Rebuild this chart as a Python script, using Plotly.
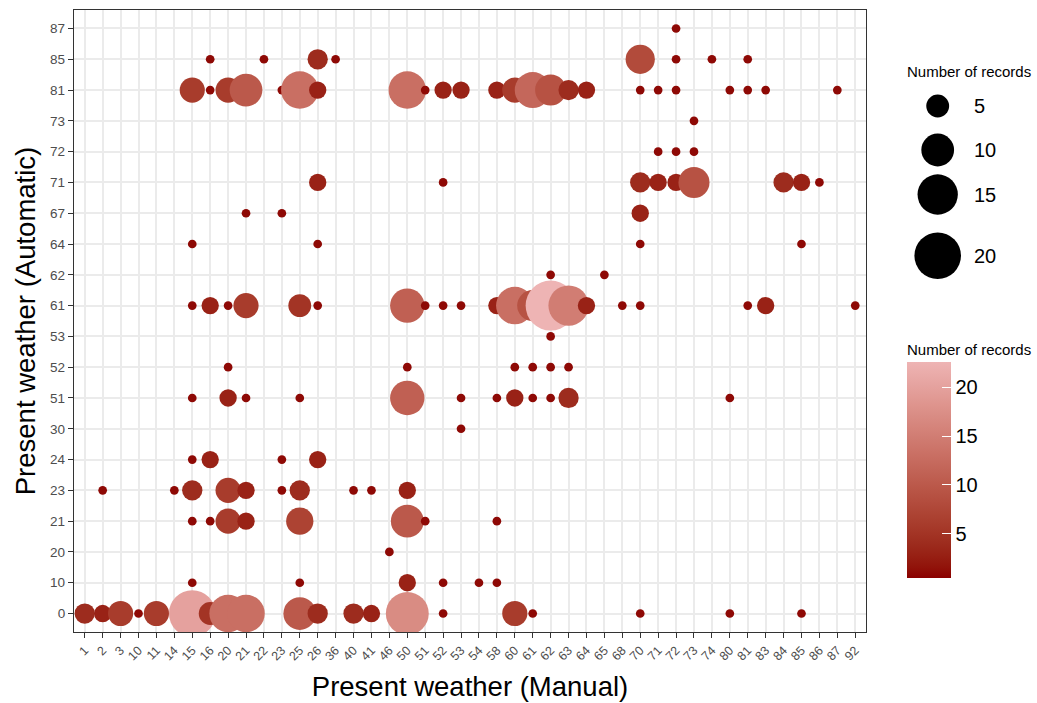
import numpy as np
import plotly.graph_objects as go

# ---------------- data ----------------
x_cats = ["1", "2", "3", "10", "11", "14", "15", "16", "20", "21", "22", "23", "25", "26",
          "36", "40", "41", "46", "50", "51", "52", "53", "54", "58", "60", "61", "62", "63",
          "64", "65", "68", "70", "71", "72", "73", "74", "80", "81", "83", "84", "85", "86",
          "87", "92"]
y_cats = ["0", "10", "20", "21", "23", "24", "30", "51", "52", "53", "61", "62", "64", "67",
          "71", "72", "73", "81", "85", "87"]

manual = ["1", "2", "2", "3", "10", "11", "14",
          "15", "15", "15", "15", "15", "15", "15", "15", "15",
          "16", "16", "16", "16", "16", "16",
          "20", "20", "20", "20", "20", "20", "20",
          "21", "21", "21", "21", "21", "21", "21",
          "22",
          "23", "23", "23", "23",
          "25", "25", "25", "25", "25", "25", "25",
          "26", "26", "26", "26", "26", "26", "26",
          "36", "40", "40", "41", "41", "46",
          "50", "50", "50", "50", "50", "50", "50", "50",
          "51", "51", "51",
          "52", "52", "52", "52", "52",
          "53", "53", "53", "53",
          "54",
          "58", "58", "58", "58", "58",
          "60", "60", "60", "60", "60",
          "61", "61", "61", "61", "61",
          "62", "62", "62", "62", "62", "62",
          "63", "63", "63", "63",
          "64", "64", "65", "68",
          "70", "70", "70", "70", "70", "70", "70",
          "71", "71", "71",
          "72", "72", "72", "72", "72",
          "73", "73", "73",
          "74", "80", "80", "80", "81", "81", "81", "83", "83", "84",
          "85", "85", "85", "86", "87", "92"]
automatic = ["0", "0", "23", "0", "0", "0", "23",
             "0", "10", "21", "23", "24", "51", "61", "64", "81",
             "0", "21", "24", "61", "81", "85",
             "0", "21", "23", "51", "52", "61", "81",
             "0", "21", "23", "51", "61", "67", "81",
             "85",
             "23", "24", "67", "81",
             "0", "10", "21", "23", "51", "61", "81",
             "0", "24", "61", "64", "71", "81", "85",
             "85", "0", "23", "0", "23", "20",
             "0", "10", "21", "23", "51", "52", "61", "81",
             "21", "61", "81",
             "0", "10", "61", "71", "81",
             "30", "51", "61", "81",
             "10",
             "10", "21", "51", "61", "81",
             "0", "51", "52", "61", "81",
             "0", "51", "52", "61", "81",
             "51", "52", "53", "61", "62", "81",
             "51", "52", "61", "81",
             "61", "81", "62", "61",
             "0", "61", "64", "67", "71", "81", "85",
             "71", "72", "81",
             "71", "72", "81", "85", "87",
             "71", "72", "73",
             "85", "0", "51", "81", "61", "81", "85", "61", "81", "71",
             "0", "64", "71", "71", "81", "61"]
records = [4, 3, 1, 6, 1, 6, 1,
           20, 1, 1, 4, 1, 1, 1, 1, 6,
           5, 1, 3, 3, 1, 1,
           13, 6, 6, 3, 1, 1, 6,
           13, 3, 3, 1, 6, 1, 10,
           1,
           1, 1, 1, 1,
           10, 1, 7, 4, 1, 5, 13,
           4, 3, 1, 1, 3, 3, 4,
           1, 4, 1, 3, 1, 1,
           17, 3, 10, 3, 11, 1, 11, 13,
           1, 1, 1,
           1, 1, 1, 1, 3,
           1, 1, 1, 3,
           1,
           1, 1, 1, 3, 3,
           6, 3, 1, 13, 6,
           1, 1, 1, 9, 12,
           1, 1, 1, 23, 1, 9,
           4, 1, 15, 4,
           3, 3, 1, 1,
           1, 1, 1, 3, 4, 1, 8,
           3, 1, 1,
           3, 1, 1, 1, 1,
           9, 1, 1,
           1, 1, 1, 1, 1, 1, 1, 3, 1, 4,
           1, 1, 3, 1, 1, 1]

size_breaks = [5, 10, 15, 20]
colour_ticks = [5, 10, 15, 20]

# ---------------- styling helpers ----------------
W, H = 1037, 703
PL, PR, PT, PB = 74, 866, 10, 632          # panel box in px
FONT = "Liberation Sans"
LOW, HIGH = (139, 0, 0), (238, 180, 180)    # darkred -> rosybrown2
CMIN, CMAX = 0.45, 22.6
BAR_TOP, BAR_BOT, BAR_L, BAR_W = 362, 578, 907, 44

vmin, vmax = min(records), max(records)


def diam(v):
    v = np.asarray(v, dtype=float)
    s = np.sqrt(1 + 35 * (v - vmin) / (vmax - vmin))   # area scaling, range 1..6
    return 8.26 * s + 0.44


# Lab interpolation (as ggplot's gradient)
def _lin(c):
    c = np.asarray(c, float) / 255
    return np.where(c <= 0.04045, c / 12.92, ((c + 0.055) / 1.055) ** 2.4)


def _delin(c):
    c = np.clip(c, 0, 1)
    return np.where(c <= 0.0031308, 12.92 * c, 1.055 * c ** (1 / 2.4) - 0.055)


_M = np.array([[0.4124564, 0.3575761, 0.1804375],
               [0.2126729, 0.7151522, 0.0721750],
               [0.0193339, 0.1191920, 0.9503041]])
_WP = np.array([0.95047, 1.0, 1.08883])


def _f(t):
    d = 6 / 29
    return np.where(t > d ** 3, np.cbrt(t), t / (3 * d * d) + 4 / 29)


def _finv(t):
    d = 6 / 29
    return np.where(t > d, t ** 3, 3 * d * d * (t - 4 / 29))


def to_lab(rgb):
    xyz = _M @ _lin(rgb) / _WP
    fx, fy, fz = _f(xyz)
    return np.array([116 * fy - 16, 500 * (fx - fy), 200 * (fy - fz)])


def from_lab(lab):
    L, a, b = lab
    fy = (L + 16) / 116
    xyz = np.array([_finv(fy + a / 500), _finv(fy), _finv(fy - b / 200)]) * _WP
    rgb = _delin(np.linalg.inv(_M) @ xyz) * 255
    return "rgb(%d,%d,%d)" % tuple(np.round(rgb).astype(int))


lab_lo, lab_hi = to_lab(LOW), to_lab(HIGH)
colorscale = [[t, from_lab(lab_lo + (lab_hi - lab_lo) * t)] for t in np.linspace(0, 1, 21)]

# ---------------- figure ----------------
fig = go.Figure()

fig.add_trace(go.Scatter(
    x=manual, y=automatic, mode="markers",
    marker=dict(size=diam(records).tolist(), sizemode="diameter",
                color=records, colorscale=colorscale, cmin=CMIN, cmax=CMAX,
                opacity=1, line=dict(width=0),
                colorbar=dict(
                    x=BAR_L / W, xanchor="left", xpad=0,
                    y=1 - (BAR_TOP + BAR_BOT) / 2 / H, yanchor="middle", ypad=0,
                    len=BAR_BOT - BAR_TOP, lenmode="pixels", thickness=BAR_W,
                    outlinewidth=0,
                    tickvals=colour_ticks, ticks="inside", ticklen=9,
                    tickcolor="white", tickwidth=1,
                    tickfont=dict(family=FONT, size=20, color="black"))),
    showlegend=False, hoverinfo="x+y+text", text=[str(r) for r in records],
))
fig.add_annotation(x=905 / W, xref="paper", xanchor="left", y=1 - 349 / H, yref="paper",
                   yanchor="middle", text="Number of records", showarrow=False,
                   font=dict(family=FONT, size=15, color="black"))

# size legend (hidden axes in the right margin)
LEG_X0, LEG_X1, LEG_Y0, LEG_Y1 = 900, 1035, 80, 290
key_centres = [106, 150, 194.5, 255.7]
key_x = 937.7
fig.add_trace(go.Scatter(
    x=[key_x] * len(size_breaks), y=key_centres, mode="markers",
    marker=dict(size=diam(size_breaks).tolist(), sizemode="diameter", color="#000000",
                opacity=1, line=dict(width=0, color="#000000")),
    opacity=1,
    xaxis="x2", yaxis="y2", showlegend=False, hoverinfo="skip"))
for b, yc in zip(size_breaks, key_centres):
    fig.add_annotation(x=972 / W, xref="paper", xanchor="left", y=yc, yref="y2",
                       yanchor="middle", text=str(b), showarrow=False,
                       font=dict(family=FONT, size=20, color="black"))
fig.add_annotation(x=905 / W, xref="paper", xanchor="left", y=1 - 71 / H, yref="paper",
                   yanchor="middle", text="Number of records", showarrow=False,
                   font=dict(family=FONT, size=15, color="black"))

# white ticks on the left edge of the colourbar
for v in colour_ticks:
    yp = BAR_BOT - (v - CMIN) / (CMAX - CMIN) * (BAR_BOT - BAR_TOP)
    fig.add_shape(type="line", xref="paper", yref="paper",
                  x0=BAR_L / W, x1=(BAR_L + 9) / W, y0=1 - yp / H, y1=1 - yp / H,
                  line=dict(color="white", width=1))

axis_common = dict(
    type="category", showgrid=True, gridcolor="#EBEBEB", gridwidth=1.5,
    showline=True, mirror=True, linecolor="#333333", linewidth=1.3,
    ticks="outside", ticklen=5, tickwidth=1.3, tickcolor="#333333",
    zeroline=False, automargin=False,
)

fig.update_layout(
    width=W, height=H,
    margin=dict(l=0, r=0, t=0, b=0),
    paper_bgcolor="white", plot_bgcolor="white",
    font=dict(family=FONT),
    xaxis=dict(axis_common, categoryorder="array", categoryarray=x_cats,
               range=[-0.6, len(x_cats) - 0.4], domain=[PL / W, PR / W],
               tickangle=-45, tickfont=dict(family=FONT, size=12.5, color="#4D4D4D"),
               title=dict(text="Present weather (Manual)", standoff=14,
                          font=dict(family=FONT, size=27.5, color="black"))),
    yaxis=dict(axis_common, categoryorder="array", categoryarray=y_cats,
               range=[-0.6, len(y_cats) - 0.4], domain=[1 - PB / H, 1 - PT / H],
               tickfont=dict(family=FONT, size=13.5, color="#4D4D4D"),
               title=dict(text="Present weather (Automatic)", standoff=6,
                          font=dict(family=FONT, size=27.5, color="black"))),
    xaxis2=dict(domain=[LEG_X0 / W, LEG_X1 / W], range=[LEG_X0, LEG_X1], visible=False,
                anchor="y2", fixedrange=True),
    yaxis2=dict(domain=[1 - LEG_Y1 / H, 1 - LEG_Y0 / H], range=[LEG_Y1, LEG_Y0], visible=False,
                anchor="x2", fixedrange=True),
)

fig.write_html("out.html")
